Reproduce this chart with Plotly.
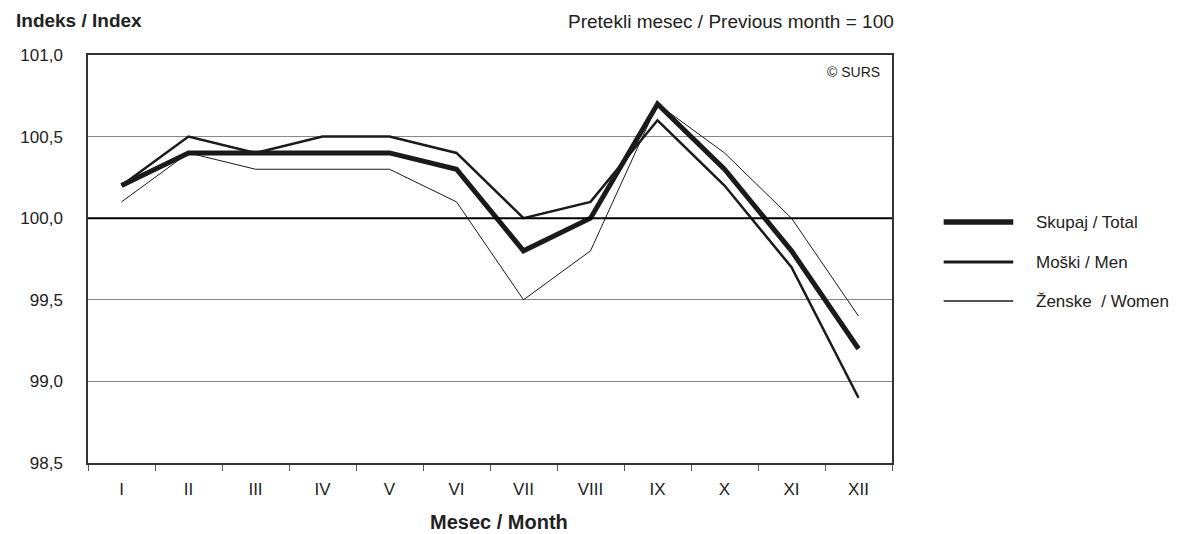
import plotly.graph_objects as go

months = ["I", "II", "III", "IV", "V", "VI", "VII", "VIII", "IX", "X", "XI", "XII"]
total = [100.2, 100.4, 100.4, 100.4, 100.4, 100.3, 99.8, 100.0, 100.7, 100.3, 99.8, 99.2]
men = [100.2, 100.5, 100.4, 100.5, 100.5, 100.4, 100.0, 100.1, 100.6, 100.2, 99.7, 98.9]
women = [100.1, 100.4, 100.3, 100.3, 100.3, 100.1, 99.5, 99.8, 100.7, 100.4, 100.0, 99.4]
y_ticks = [98.5, 99.0, 99.5, 100.0, 100.5, 101.0]
base = 100.0

series = [
    ("Skupaj / Total", total, 5),
    ("Moški / Men", men, 2.5),
    ("Ženske  / Women", women, 1),
]

FONT = "Liberation Sans, Arial, sans-serif"
INK = "#1a1a1a"
TXT = "#222222"

# page body adds an 8px margin; work in screen pixels
OFF = 8
FW, FH = 1204 - OFF, 534 - OFF
L, R, T, B = 83, 892, 55, 463  # plot area in screen px
W, H = R - L, B - T


def px(x):
    return (x - L) / W


def py(y):
    return (B - y) / H


fig = go.Figure()
for name, vals, w in reversed(series):
    fig.add_trace(go.Scatter(x=months, y=vals, mode="lines", name=name,
                             line=dict(color=INK, width=w), showlegend=False))

# reference line at 100
fig.add_shape(type="line", xref="paper", x0=0, x1=1, yref="y", y0=base, y1=base,
              line=dict(color="#000000", width=2), layer="above")

# manual legend
rows = [222, 262, 301]
for (name, vals, w), yy in zip(series, rows):
    fig.add_shape(type="line", xref="paper", yref="paper", x0=px(944), x1=px(1014),
                  y0=py(yy), y1=py(yy), line=dict(color=INK, width=w + 0.5))
    fig.add_annotation(xref="paper", yref="paper", x=px(1035), y=py(yy), text=name,
                       showarrow=False, xanchor="left", yanchor="middle",
                       font=dict(family=FONT, size=17, color=TXT))

fig.add_annotation(xref="paper", yref="paper", x=px(9), y=py(20), text="<b>Indeks / Index</b>",
                   showarrow=False, xanchor="left", yanchor="middle",
                   font=dict(family=FONT, size=19, color=TXT))
fig.add_annotation(xref="paper", yref="paper", x=px(896), y=py(21),
                   text="Pretekli mesec / Previous month = 100",
                   showarrow=False, xanchor="right", yanchor="middle",
                   font=dict(family=FONT, size=19, color=TXT))
fig.add_annotation(xref="paper", yref="paper", x=px(882), y=py(72), text="© SURS",
                   showarrow=False, xanchor="right", yanchor="middle",
                   font=dict(family=FONT, size=14, color=TXT))
fig.add_annotation(xref="paper", yref="paper", x=px(497), y=py(522), text="<b>Mesec / Month</b>",
                   showarrow=False, xanchor="center", yanchor="middle",
                   font=dict(family=FONT, size=20, color=TXT))

fig.update_layout(
    width=FW, height=FH,
    margin=dict(l=L - OFF, r=FW - (R - OFF), t=T - OFF, b=FH - (B - OFF)),
    paper_bgcolor="white", plot_bgcolor="white",
    separators=", ",
    font=dict(family=FONT, size=17, color=TXT),
    showlegend=False,
)
fig.update_xaxes(
    type="category", showgrid=False, showline=True, linecolor="#333333", linewidth=1.5,
    mirror=True, ticks="outside", tickson="boundaries", ticklen=6, tickcolor="#555555",
    tickfont=dict(family=FONT, size=17, color=TXT), ticklabelstandoff=10,
    range=[-0.5, 11.5],
)
fig.update_yaxes(
    range=[98.5, 101.0], tickvals=y_ticks, tickformat=".1f",
    showgrid=True, gridcolor="#888888", gridwidth=1, zeroline=False,
    showline=True, linecolor="#333333", linewidth=1.5, mirror=True,
    ticks="", tickfont=dict(family=FONT, size=17, color=TXT), ticklabelstandoff=20,
)

fig.write_html("out.html")
